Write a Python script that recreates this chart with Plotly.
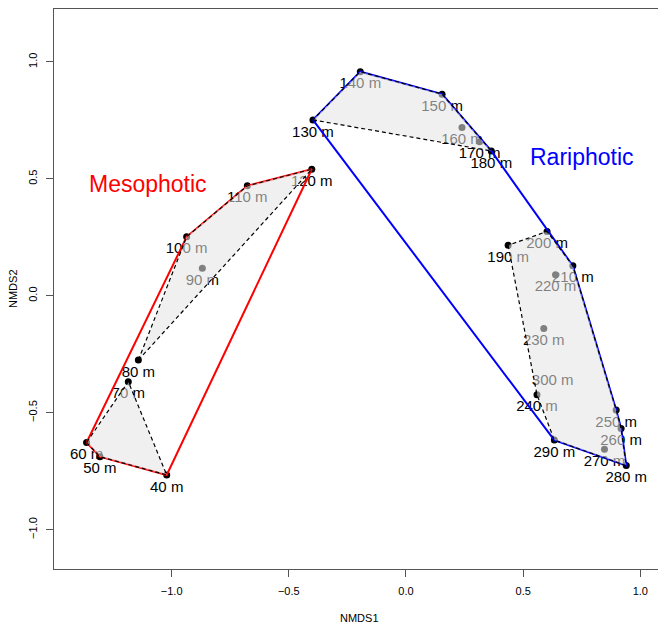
import plotly.graph_objects as go

# ---- data ----
labels = ["40 m", "50 m", "60 m", "70 m", "80 m", "90 m", "100 m", "110 m", "120 m",
          "130 m", "140 m", "150 m", "160 m", "170 m", "180 m", "190 m", "200 m",
          "210 m", "220 m", "230 m", "240 m", "250 m", "260 m", "270 m", "280 m",
          "290 m", "300 m"]
nmds1 = [-1.021, -1.306, -1.363, -1.185, -1.142, -0.869, -0.936, -0.677, -0.402,
         -0.397, -0.195, 0.154, 0.239, 0.314, 0.364, 0.436, 0.602,
         0.712, 0.638, 0.588, 0.559, 0.897, 0.918, 0.847, 0.940,
         0.633, 0.626]
nmds2 = [-0.766, -0.688, -0.627, -0.367, -0.275, 0.118, 0.252, 0.470, 0.541,
         0.752, 0.958, 0.862, 0.719, 0.659, 0.619, 0.216, 0.275,
         0.128, 0.090, -0.140, -0.423, -0.488, -0.567, -0.656, -0.726,
         -0.617, -0.312]
zone = ["Mesophotic"] * 9 + ["Rariphotic"] * 18
cluster = [1, 1, 1, 1, 2, 2, 2, 2, 2,
           3, 3, 3, 3, 3, 3,
           4, 4, 4, 4, 4, 4, 4, 4, 4, 4, 4, 4]
no_dot = ["300 m"]

zone_names = ["Mesophotic", "Rariphotic"]
zone_colors = {"Mesophotic": "rgb(255,0,0)", "Rariphotic": "rgb(0,0,255)"}
zone_label_pos = {"Mesophotic": (-1.100, 0.480), "Rariphotic": (0.751, 0.595)}

x_ticks = [-1.0, -0.5, 0.0, 0.5, 1.0]
y_ticks = [-1.0, -0.5, 0.0, 0.5, 1.0]
x_range = [-1.502, 1.101]
y_range = [-1.168, 1.226]


def convex_hull(pts):
    pts = sorted(set(pts))
    if len(pts) <= 2:
        return pts

    def cross(o, a, b):
        return (a[0] - o[0]) * (b[1] - o[1]) - (a[1] - o[1]) * (b[0] - o[0])

    lower = []
    for p in pts:
        while len(lower) >= 2 and cross(lower[-2], lower[-1], p) <= 0:
            lower.pop()
        lower.append(p)
    upper = []
    for p in reversed(pts):
        while len(upper) >= 2 and cross(upper[-2], upper[-1], p) <= 0:
            upper.pop()
        upper.append(p)
    return lower[:-1] + upper[:-1]


FONT = "Liberation Sans, Arial, Helvetica, sans-serif"
fig = go.Figure()

# points + labels (drawn first so hull fills sit on top, as in the original)
dot_colors = ["rgba(0,0,0,0)" if lab in no_dot else "black" for lab in labels]
fig.add_trace(go.Scatter(
    x=nmds1, y=nmds2, mode="markers+text", text=labels,
    textposition="bottom center",
    textfont=dict(family=FONT, size=15, color="black"),
    marker=dict(size=7, color=dot_colors, line=dict(width=0)),
    hoverinfo="text", showlegend=False,
))

# zone hulls (solid coloured)
for z in zone_names:
    pts = [(x, y) for x, y, zz in zip(nmds1, nmds2, zone) if zz == z]
    h = convex_hull(pts)
    h = h + [h[0]]
    fig.add_trace(go.Scatter(
        x=[p[0] for p in h], y=[p[1] for p in h], mode="lines",
        line=dict(color=zone_colors[z], width=2),
        hoverinfo="skip", showlegend=False,
    ))

# cluster hulls (dashed, translucent grey fill)
for c in sorted(set(cluster)):
    pts = [(x, y) for x, y, cc in zip(nmds1, nmds2, cluster) if cc == c]
    h = convex_hull(pts)
    h = h + [h[0]]
    fig.add_trace(go.Scatter(
        x=[p[0] for p in h], y=[p[1] for p in h], mode="lines",
        fill="toself", fillcolor="rgba(228,228,228,0.56)",
        line=dict(color="black", width=1.2, dash="4px,3px"),
        hoverinfo="skip", showlegend=False,
    ))

annotations = []
for z in zone_names:
    zx, zy = zone_label_pos[z]
    annotations.append(dict(
        x=zx, y=zy, xref="x", yref="y", text=z, showarrow=False,
        font=dict(family=FONT, size=23, color=zone_colors[z]),
        xanchor="center", yanchor="middle",
    ))
annotations.append(dict(
    x=0.5, y=0, xref="paper", yref="paper", text="NMDS1", showarrow=False,
    font=dict(family=FONT, size=11, color="black"),
    xanchor="center", yanchor="middle", yshift=-49,
))
annotations.append(dict(
    x=0, y=0.5, xref="paper", yref="paper", text="NMDS2", showarrow=False,
    font=dict(family=FONT, size=11, color="black"), textangle=-90,
    xanchor="center", yanchor="middle", xshift=-41,
))

axis_common = dict(
    showgrid=False, zeroline=False, showline=True, mirror=True,
    linecolor="#555", linewidth=1, ticks="outside", ticklen=7,
    tickcolor="#555", tickwidth=1, tickformat=".1f", automargin=False,
    tickfont=dict(family=FONT, size=11, color="black"),
)

# the page body adds an 8px offset, so margins are reduced to compensate
fig.update_layout(
    width=666, height=624,
    margin=dict(l=46, r=10, t=1, b=63, autoexpand=False),
    paper_bgcolor="white", plot_bgcolor="white",
    xaxis=dict(range=x_range, tickvals=x_ticks, ticklabelstandoff=5, **axis_common),
    yaxis=dict(range=y_range, tickvals=y_ticks, tickangle=-90, ticklabelstandoff=5,
               **axis_common),
    annotations=annotations,
    showlegend=False,
)

fig.write_html("out.html")
